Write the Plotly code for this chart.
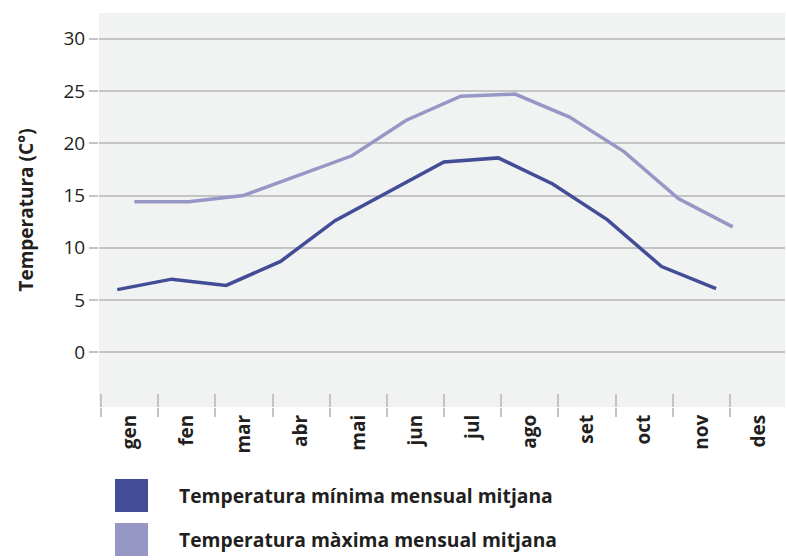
import plotly.graph_objects as go

months = ["gen", "fen", "mar", "abr", "mai", "jun", "jul", "ago", "set", "oct", "nov", "des"]
temp_min = [6.0, 7.0, 6.4, 8.7, 12.6, 15.4, 18.2, 18.6, 16.1, 12.7, 8.2, 6.1]
temp_max = [14.4, 14.4, 15.0, 16.9, 18.8, 22.2, 24.5, 24.7, 22.5, 19.2, 14.7, 12.0]
name_min = "Temperatura mínima mensual mitjana"
name_max = "Temperatura màxima mensual mitjana"
y_ticks = [0, 5, 10, 15, 20, 25, 30]

c_min = "#434d97"
c_max = "#9797c6"
bg = "#f1f2f2"
grid = "#c4c4c4"
txt = "#231f20"
font = "Open Sans"

fig = go.Figure()

# invisible traces to give the category axes their categories
for ax in ("x", "x4"):
    fig.add_trace(go.Scatter(x=months, y=temp_min, xaxis=ax, mode="lines",
                             line=dict(width=0, color="rgba(0,0,0,0)"),
                             hoverinfo="skip", showlegend=False))

fig.add_trace(go.Scatter(x=months, y=temp_min, xaxis="x2", mode="lines",
                         line=dict(color=c_min, width=3.5), name=name_min,
                         showlegend=False))
fig.add_trace(go.Scatter(x=months, y=temp_max, xaxis="x3", mode="lines",
                         line=dict(color=c_max, width=3.5), name=name_max,
                         showlegend=False))

tickfont = dict(family=font, size=19, color=txt)

fig.update_layout(
    width=786, height=560,
    margin=dict(l=99, r=1, t=13, b=153),
    paper_bgcolor="white",
    plot_bgcolor=bg,
    font=dict(family=font, color=txt),
    xaxis=dict(type="category", categoryorder="array", categoryarray=months,
               range=[-0.537, 11.462], tickson="boundaries",
               ticks="outside", ticklen=9, tickwidth=1.5, tickcolor=grid,
               showgrid=False, showline=False, zeroline=False,
               tickangle=-90, ticklabelstandoff=3,
               tickfont=dict(family=font, size=19, color=txt, weight="bold")),
    xaxis4=dict(type="category", categoryorder="array", categoryarray=months,
                range=[-0.537, 11.462], tickson="boundaries", overlaying="x",
                ticks="inside", ticklen=13, tickwidth=1.5, tickcolor=grid,
                showgrid=False, showline=False, zeroline=False,
                showticklabels=False),
    xaxis2=dict(type="category", categoryorder="array", categoryarray=months,
                range=[-0.336, 12.267], overlaying="x", visible=False),
    xaxis3=dict(type="category", categoryorder="array", categoryarray=months,
                range=[-0.649, 11.961], overlaying="x", visible=False),
    yaxis=dict(range=[-5.23, 32.46], tickvals=y_ticks,
               showgrid=True, gridcolor=grid, gridwidth=1.5,
               zeroline=False, showline=False,
               ticks="outside", ticklen=9, tickwidth=1.5, tickcolor=grid,
               tickfont=tickfont,
               title=dict(text="Temperatura (C°)", standoff=24,
                          font=dict(family=font, size=19, color=txt, weight="bold"))),
)

# legend: coloured squares with labels below the chart
legend_items = [(name_min, c_min), (name_max, c_max)]
for k, (label, col) in enumerate(legend_items):
    top = 72 + 44 * k  # pixels below plot area bottom
    fig.add_shape(type="rect", xref="paper", yref="paper",
                  xsizemode="pixel", ysizemode="pixel",
                  xanchor=0, yanchor=0,
                  x0=16, x1=49, y0=-top - 33, y1=-top,
                  fillcolor=col, line=dict(width=0))
    fig.add_annotation(xref="paper", yref="paper", x=0, y=0,
                       xshift=78, yshift=-top - 16.5,
                       xanchor="left", yanchor="middle", showarrow=False,
                       text="<b>" + label + "</b>",
                       font=dict(family=font, size=19.3, color=txt))

fig.write_html("out.html", config={"displayModeBar": False},
               post_script="document.body.style.margin='0';")
